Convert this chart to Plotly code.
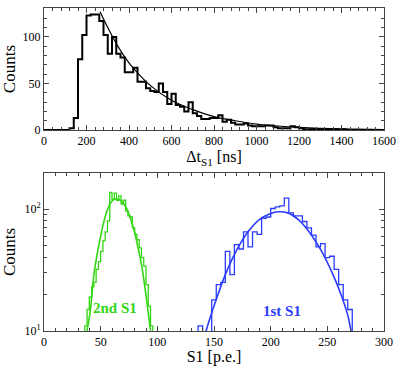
import numpy as np
import plotly.graph_objects as go
from plotly.subplots import make_subplots

## top panel: delta t between S1s, 20 ns bins
dt_edges = list(range(0, 1600, 20))
dt_counts = [0, 0, 0, 0, 0, 0, 2, 13, 76, 102,
             123, 124, 124, 117, 102, 82, 100, 82, 78, 62,
             62, 67, 52, 52, 45, 42, 41, 50, 41, 28,
             39, 27, 25, 20, 30, 18, 15, 12, 12, 13,
             13, 16, 9, 11, 8, 6, 6, 7, 5, 4,
             4, 4, 5, 5, 3, 2, 2, 2, 4, 3,
             2, 1, 1, 1, 1, 0, 1, 0, 1, 0,
             1, 0, 0, 0, 0, 0, 0, 0, 0, 0]
dt_fit_x = [264, 300, 350, 400, 450, 500, 600, 700, 800, 900, 1000, 1100, 1200, 1400, 1600]
dt_fit_y = [127, 110, 89, 72, 59, 48, 32, 22, 14.5, 10, 6.5, 4.4, 3, 1.3, 0.6]

## bottom panel: S1 sizes
s1b_edges = list(range(34, 98, 2))
s1b_counts = [6, 11, 15, 19, 23, 25, 32, 37, 45, 55,
              65, 80, 137, 120, 135, 118, 128, 110, 118, 96,
              88, 86, 70, 62, 56, 48, 40, 34, 24, 16,
              11, 6]
s1b_fit_x = [37, 38, 41, 44, 47, 50, 53, 56, 59, 62, 65, 68, 71, 74, 77, 80, 83, 86, 89, 92, 94, 95]
s1b_fit_y = [8.5, 10, 15, 29, 43, 60, 80, 99, 113, 120, 121, 117, 108, 96, 80, 64, 48, 35, 23, 14, 10, 8.5]

s1a_edges = list(range(132, 276, 4))
s1a_counts = [6, 11, 8, 9, 18, 24, 25, 45, 29, 51,
              47, 65, 49, 65, 62, 84, 86, 101, 104, 106,
              123, 93, 88, 88, 79, 70, 61, 49, 52, 40,
              41, 32, 24, 18, 15, 5]
s1a_fit_x = [141, 143, 150, 160, 170, 180, 190, 200, 207, 215, 225, 235, 245, 255, 262, 268, 271, 273]
s1a_fit_y = [8.5, 10, 16, 29, 46, 65, 82, 92, 95, 93, 81, 63, 45, 29, 20, 13.5, 10, 8.5]

black = "#000000"
green = "#33d614"
blue = "#2b3cff"
serif = "Times New Roman, Liberation Serif, serif"


def steps(edges, counts, width):
    ## x/y arrays for an hv step outline of a histogram
    x = list(edges) + [edges[-1] + width]
    y = list(counts) + [counts[-1]]
    return x, y


fig = make_subplots(rows=2, cols=1, vertical_spacing=0.13)

x, y = steps(dt_edges, dt_counts, 20)
fig.add_trace(go.Scatter(x=x, y=y, mode="lines", line=dict(color=black, width=2, shape="hv")), row=1, col=1)
fig.add_trace(go.Scatter(x=dt_fit_x, y=dt_fit_y, mode="lines", line=dict(color=black, width=1.2, shape="spline")), row=1, col=1)

x, y = steps(s1b_edges, s1b_counts, 2)
fig.add_trace(go.Scatter(x=x, y=y, mode="lines", line=dict(color=green, width=1.3, shape="hv")), row=2, col=1)
fig.add_trace(go.Scatter(x=s1b_fit_x, y=s1b_fit_y, mode="lines", line=dict(color=green, width=1.6, shape="spline")), row=2, col=1)

x, y = steps(s1a_edges, s1a_counts, 4)
fig.add_trace(go.Scatter(x=x, y=y, mode="lines", line=dict(color=blue, width=1.3, shape="hv")), row=2, col=1)
fig.add_trace(go.Scatter(x=s1a_fit_x, y=s1a_fit_y, mode="lines", line=dict(color=blue, width=1.6, shape="spline")), row=2, col=1)

axis_style = dict(showline=True, linecolor="#444", linewidth=1, mirror="ticks", ticks="inside",
                  ticklen=5, tickcolor="#444", showgrid=False, zeroline=False, automargin=False,
                  tickfont=dict(family=serif, size=12, color=black))

fig.update_xaxes(axis_style)
fig.update_yaxes(axis_style)

fig.update_xaxes(range=[0, 1600], dtick=200, minor=dict(dtick=40, ticks="inside", ticklen=3, tickcolor="#444"),
                 title=dict(text="Δt<sub>S1</sub> [ns]", font=dict(family=serif, size=16), standoff=2),
                 domain=[0, 1], row=1, col=1)
fig.update_yaxes(range=[0, 131], dtick=50, minor=dict(dtick=10, ticks="inside", ticklen=3, tickcolor="#444"),
                 title=dict(text="Counts", font=dict(family=serif, size=17), standoff=4),
                 domain=[0.622, 1.0], row=1, col=1)

fig.update_xaxes(range=[0, 300], dtick=50, minor=dict(dtick=10, ticks="inside", ticklen=3, tickcolor="#444"),
                 title=dict(text="S1 [p.e.]", font=dict(family=serif, size=16), standoff=2),
                 row=2, col=1)
fig.update_yaxes(type="log", range=[1, 2.295], tickvals=[10, 100], ticktext=["10<sup>1</sup>", "10<sup>2</sup>"],
                 minor=dict(tickvals=[20, 30, 40, 50, 60, 70, 80, 90, 200], ticks="inside", ticklen=3, tickcolor="#444"),
                 title=dict(text="Counts", font=dict(family=serif, size=17), standoff=4),
                 domain=[0, 0.489], row=2, col=1)

fig.add_annotation(x=63, y=np.log10(15.5), xref="x2", yref="y2", text="<b>2nd S1</b>", showarrow=False,
                   font=dict(family=serif, size=15, color=green))
fig.add_annotation(x=209.6, y=np.log10(14.5), xref="x2", yref="y2", text="<b>1st S1</b>", showarrow=False,
                   font=dict(family=serif, size=15, color=blue))

fig.update_layout(width=399, height=366, showlegend=False, plot_bgcolor="white", paper_bgcolor="white",
                  margin=dict(l=44, r=15, t=8, b=35), font=dict(family=serif, color=black))

fig.write_html("out.html", config={"displayModeBar": False},
               post_script="document.body.style.margin='0';")
